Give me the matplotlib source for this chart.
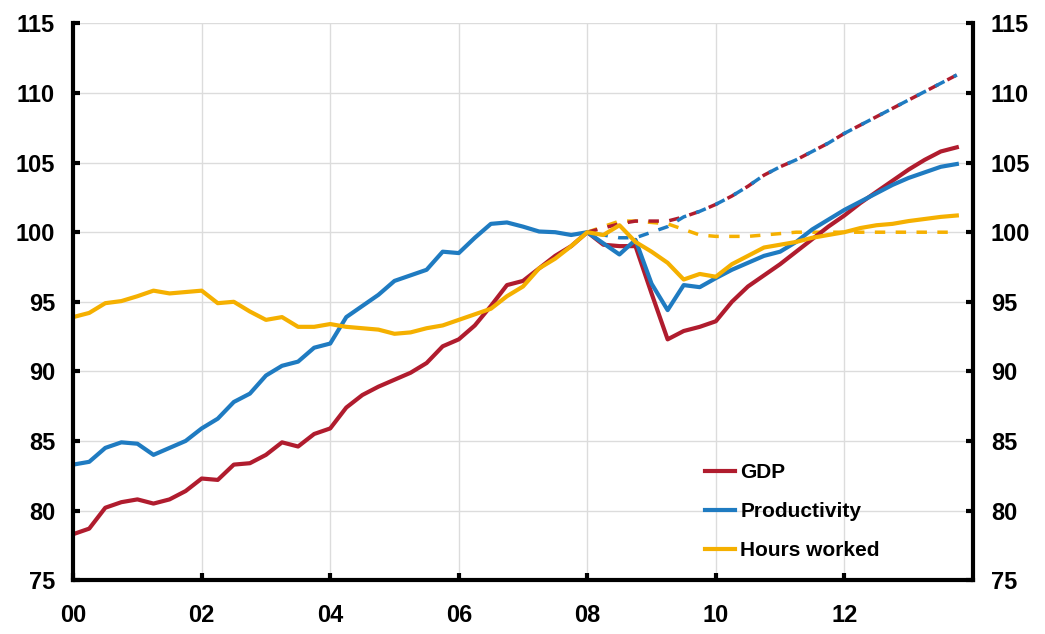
import numpy as np
import matplotlib.pyplot as plt

plt.rcParams['font.family'] = ['Liberation Sans', 'DejaVu Sans']

# quarterly index, 2008Q1 = 100
start_year = 2000
gdp = [78.3, 78.7, 80.2, 80.6, 80.8, 80.5, 80.8, 81.4,
       82.3, 82.2, 83.3, 83.4, 84.0, 84.9, 84.6, 85.5,
       85.9, 87.4, 88.3, 88.9, 89.4, 89.9, 90.6, 91.8,
       92.3, 93.3, 94.7, 96.2, 96.5, 97.4, 98.3, 99.0,
       100.0, 99.1, 99.0, 99.0, 95.6, 92.3, 92.9, 93.2,
       93.6, 95.0, 96.1, 96.9, 97.7, 98.6, 99.5, 100.4,
       101.2, 102.1, 102.9, 103.7, 104.5, 105.2, 105.8, 106.1]
productivity = [83.3, 83.5, 84.5, 84.9, 84.8, 84.0, 84.5, 85.0,
                85.9, 86.6, 87.8, 88.4, 89.7, 90.4, 90.7, 91.7,
                92.0, 93.9, 94.7, 95.5, 96.5, 96.9, 97.3, 98.6,
                98.5, 99.6, 100.6, 100.7, 100.4, 100.05, 100.0, 99.8,
                100.0, 99.2, 98.4, 99.45, 96.3, 94.4, 96.2, 96.05,
                96.7, 97.3, 97.8, 98.3, 98.6, 99.3, 100.2, 100.9,
                101.6, 102.2, 102.8, 103.4, 103.9, 104.3, 104.7, 104.9]
hours = [93.9, 94.2, 94.9, 95.05, 95.4, 95.8, 95.6, 95.7,
         95.8, 94.9, 95.0, 94.3, 93.7, 93.9, 93.2, 93.2,
         93.4, 93.2, 93.1, 93.0, 92.7, 92.8, 93.1, 93.3,
         93.7, 94.1, 94.5, 95.4, 96.1, 97.4, 98.1, 99.0,
         100.0, 99.8, 100.5, 99.3, 98.6, 97.8, 96.6, 97.0,
         96.8, 97.7, 98.3, 98.9, 99.1, 99.3, 99.6, 99.8,
         100.0, 100.3, 100.5, 100.6, 100.8, 100.95, 101.1, 101.2]

# pre-crisis trends from 2008Q1
gdp_trend = [100.0, 100.3, 100.6, 100.8, 100.8, 100.8, 101.1, 101.5,
             102.0, 102.6, 103.3, 104.1, 104.7, 105.2, 105.8, 106.4,
             107.1, 107.7, 108.3, 108.9, 109.5, 110.1, 110.7, 111.3]
prod_trend = [100.0, 99.8, 99.6, 99.6, 100.0, 100.4, 101.1, 101.5,
              102.0, 102.6, 103.3, 104.1, 104.7, 105.2, 105.8, 106.4,
              107.1, 107.7, 108.3, 108.9, 109.5, 110.1, 110.7, 111.3]
hours_trend = [100.0, 100.4, 100.8, 100.8, 100.7, 100.6, 100.2, 99.8,
               99.7, 99.7, 99.7, 99.8, 99.9, 100.0, 100.0, 100.0,
               100.0, 100.0, 100.0, 100.0, 100.0, 100.0, 100.0, 100.0]

xticks = [2000, 2002, 2004, 2006, 2008, 2010, 2012]
xticklabels = ['00', '02', '04', '06', '08', '10', '12']
yticks = [75, 80, 85, 90, 95, 100, 105, 110, 115]

red = '#b01c2e'
blue = '#1f7bc1'
orange = '#f5b000'

x = start_year + np.arange(len(gdp)) / 4
xt = 2008 + np.arange(len(gdp_trend)) / 4

fig = plt.figure(figsize=(10.45, 6.34), dpi=100)
ax = fig.add_axes([0.070, 0.085, 0.861, 0.878])

ax.plot(xt, hours_trend, color=orange, lw=2.5, ls=(0, (3, 3)))
ax.plot(xt, gdp_trend, color=red, lw=2.5, ls=(0, (3, 3)))
ax.plot(xt, prod_trend, color=blue, lw=2.5, ls=(3, (3, 3)))

ax.plot(x, gdp, color=red, lw=3, label='GDP')
ax.plot(x, productivity, color=blue, lw=3, label='Productivity')
ax.plot(x, hours, color=orange, lw=3, label='Hours worked')

ax.set_xlim(2000, 2014)
ax.set_ylim(75, 115)
ax.set_xticks(xticks)
ax.set_xticklabels(xticklabels)
ax.set_yticks(yticks)
ax.grid(True, color='#dcdcdc', lw=1)
ax.set_axisbelow(True)

for s in ['left', 'right', 'bottom']:
    ax.spines[s].set_linewidth(3)
ax.spines['top'].set_visible(False)

ax.tick_params(axis='both', direction='in', length=5, width=3,
               labelsize=17, left=True, right=True, labelright=True)
ax.tick_params(axis='y', pad=13)
ax.tick_params(axis='x', pad=17)
for lab in ax.get_xticklabels() + ax.get_yticklabels():
    lab.set_fontweight('bold')
for lab in ax.yaxis.get_ticklabels(which='major'):
    lab.set_fontweight('bold')
for t in ax.yaxis.get_major_ticks():
    t.label2.set_fontweight('bold')

leg = ax.legend(loc='center left', bbox_to_anchor=(0.693, 0.123), frameon=False,
                prop={'size': 15, 'weight': 'bold'}, handlelength=1.45,
                handletextpad=0.25, labelspacing=0.95, borderaxespad=0)

fig.savefig('out.png', dpi=100)
